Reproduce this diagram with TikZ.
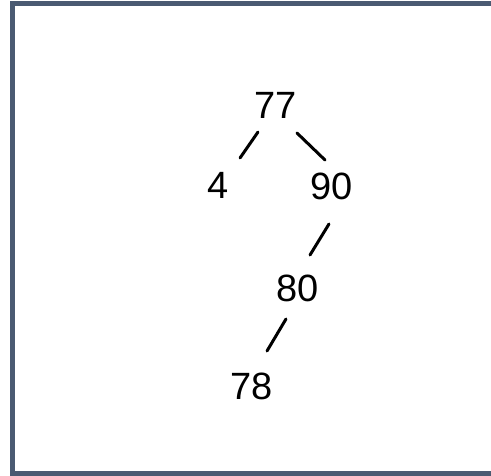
\documentclass[tikz,border=0pt]{standalone}
\usepackage{fontspec}
\setmainfont{Liberation Sans}
\definecolor{framecol}{HTML}{4A5A72}
\begin{document}
\begin{tikzpicture}[x=1pt,y=1pt,
  num/.style={inner sep=0pt, font=\fontsize{38}{42}\selectfont},
  edge/.style={line width=3pt, line cap=round, black}]
\useasboundingbox (0,0) rectangle (491,-475);
\fill[white] (0,0) rectangle (491,-475);
\draw[framecol, line width=4.5pt] (12.5,-3.5) rectangle (500,-473.5);
\node[num] (n77) at (276,-105) {77};
\node[num] (n4) at (218,-185) {4};
\node[num] (n90) at (332,-186) {90};
\node[num] (n80) at (298,-288) {80};
\node[num] (n78) at (252,-386) {78};
\draw[edge] ([shift={(-18,-27)}]n77.center) -- ([shift={(22,27)}]n4.center);
\draw[edge] ([shift={(21,-28)}]n77.center) -- ([shift={(-7,26)}]n90.center);
\draw[edge] ([shift={(-3,-38)}]n90.center) -- ([shift={(12,33)}]n80.center);
\draw[edge] ([shift={(-12,-31)}]n80.center) -- ([shift={(15,35)}]n78.center);
\end{tikzpicture}
\end{document}
